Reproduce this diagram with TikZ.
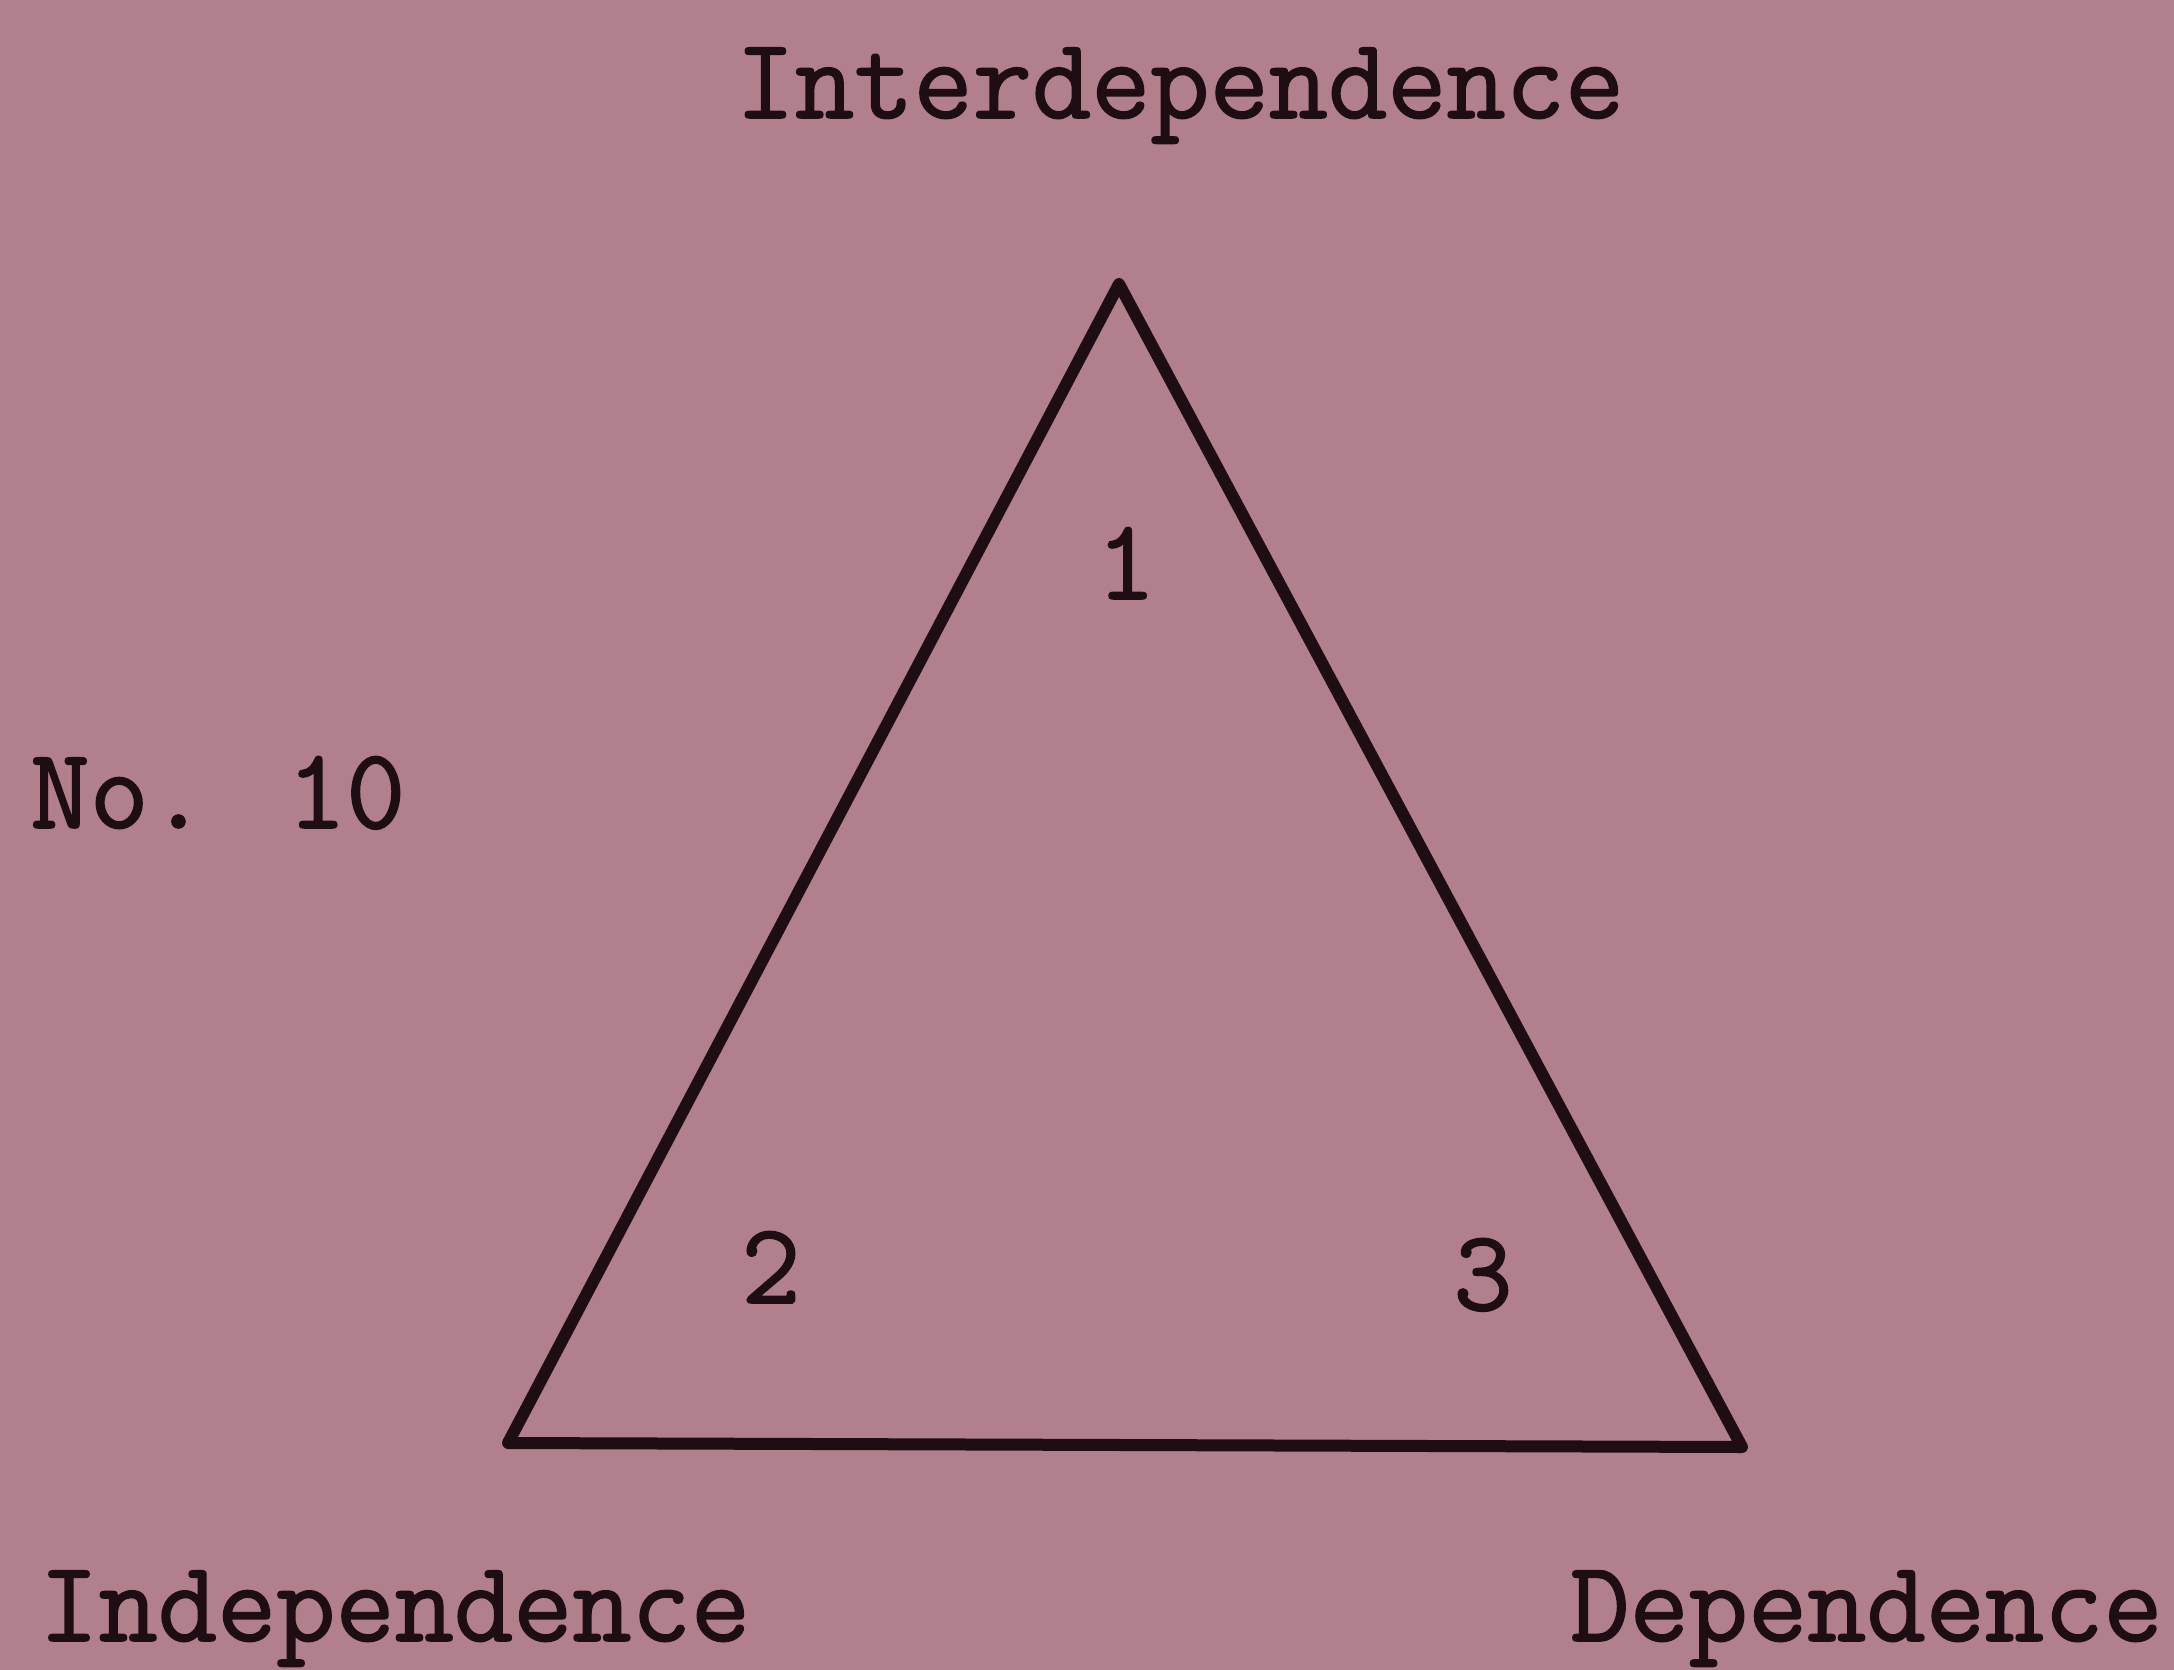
\documentclass[tikz,border=0pt]{standalone}
\usepackage{fontspec}
\setmainfont{Latin Modern Mono}[FakeBold=1.4]
\definecolor{bg}{RGB}{178,128,140}
\definecolor{ink}{RGB}{30,14,20}
\begin{document}
\begin{tikzpicture}[x=0.5pt,y=-0.5pt,
  lbl/.style={font=\fontsize{57.5}{68}\selectfont, text=ink, inner sep=0pt},
  edge/.style={draw=ink, line width=6pt, line join=round}]
\fill[bg] (0,0) rectangle (2174,1670);
\useasboundingbox (0,0) rectangle (2174,1670);
\coordinate (top) at (1119,284);
\coordinate (bl) at (508,1443);
\coordinate (br) at (1742,1447);
\draw[edge] (top) -- (bl) -- (br) -- cycle;
\node[lbl, anchor=base] (inter) at (1180,118) {Interdependence};
\node[lbl, anchor=base west] (no) at (30,828) {No. 10};
\node[lbl, anchor=base west] (indep) at (39,1641) {Independence};
\node[lbl, anchor=base east] (dep) at (2163,1641) {Dependence};
\node[lbl, anchor=base] (one) at (1126,599) {1};
\node[lbl, anchor=base] (two) at (771,1303) {2};
\node[lbl, anchor=base] (three) at (1483,1310) {3};
\end{tikzpicture}
\end{document}
